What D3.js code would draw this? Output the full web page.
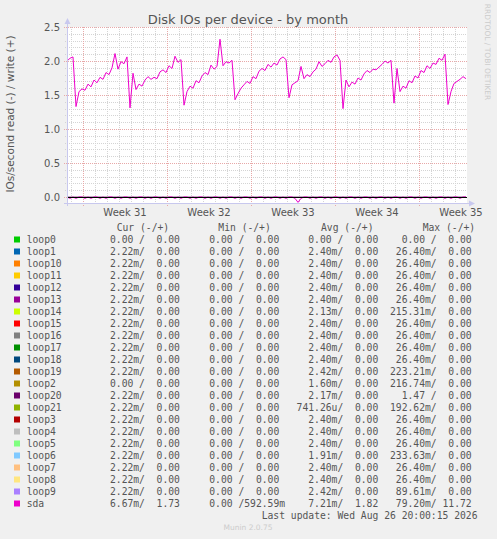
<!DOCTYPE html>
<html>
<head>
<meta charset="utf-8">
<script src="https://cdn.jsdelivr.net/npm/d3@7"></script>
<style>
  body { margin: 0; background: #f0f0f0; }
  text { font-family: "DejaVu Sans", sans-serif; fill: #555; }
  .mono { font-family: "DejaVu Sans Mono", monospace; font-size: 9.7px; white-space: pre; }
</style>
</head>
<body>
<div id="chart"></div>
<script>

// sda writes, one value every 6 hours from the left edge
var sdaWrite = [
  2.00, 2.04, 2.06, 1.33, 1.55, 1.59, 1.57, 1.66, 1.62, 1.72,
  1.68, 1.76, 1.73, 1.83, 1.80, 1.90, 2.11, 1.88, 1.99, 1.96,
  2.06, 1.31, 1.82, 1.58, 1.66, 1.63, 1.72, 1.77, 1.73, 1.76,
  1.74, 1.84, 1.87, 1.83, 1.93, 1.89, 2.07, 1.98, 2.02, 1.35,
  1.55, 1.63, 1.60, 1.71, 1.68, 1.78, 1.83, 1.80, 1.94, 1.88,
  1.92, 2.32, 1.93, 1.99, 1.97, 2.01, 1.43, 1.52, 1.60, 1.65,
  1.70, 1.67, 1.77, 1.74, 1.85, 1.89, 1.86, 1.95, 1.91, 1.97,
  1.94, 2.03, 2.06, 2.02, 1.46, 1.65, 1.68, 1.71, 1.92, 1.74,
  1.80, 1.77, 1.84, 1.88, 1.99, 1.92, 1.96, 2.01, 1.98, 2.06,
  2.09, 2.01, 1.30, 1.72, 1.62, 1.69, 1.66, 1.75, 1.72, 1.81,
  1.86, 1.83, 1.88, 1.87, 1.91, 1.95, 2.00, 1.97, 2.01, 1.38,
  1.89, 1.55, 1.63, 1.60, 1.71, 1.68, 1.78, 1.75, 1.86, 1.83,
  1.93, 1.89, 1.97, 1.95, 2.04, 2.01, 2.10, 1.36, 1.55, 1.67,
  1.70, 1.73, 1.77, 1.74
];

// sda reads (drawn below zero)
var sdaRead = [
  0, 0.02, 0, 0.02, 0, 0, 0.02, 0, 0.02, 0,
  0, 0.02, 0, 0.02, 0, 0, 0.02, 0, 0.02, 0,
  0, 0.02, 0, 0.02, 0, 0, 0.02, 0, 0.02, 0,
  0, 0.02, 0, 0.02, 0, 0, 0.02, 0, 0.02, 0,
  0, 0.02, 0, 0.02, 0, 0, 0.02, 0, 0.02, 0,
  0, 0.02, 0, 0.02, 0, 0, 0.02, 0, 0.02, 0,
  0, 0.02, 0, 0.02, 0, 0, 0.02, 0, 0.02, 0,
  0, 0.02, 0, 0.02, 0, 0, 0.02, 0.079, 0.02, 0,
  0, 0.02, 0, 0.02, 0, 0, 0.02, 0, 0.02, 0,
  0, 0.02, 0, 0.02, 0, 0, 0.02, 0, 0.02, 0,
  0, 0.02, 0, 0.02, 0, 0, 0.02, 0, 0.02, 0,
  0, 0.02, 0, 0.02, 0, 0, 0.02, 0, 0.02, 0,
  0, 0.02, 0, 0.02, 0, 0, 0.02, 0, 0.02, 0,
  0, 0.02, 0, 0
];

var devices = ["loop0", "loop1", "loop10", "loop11", "loop12", "loop13", "loop14", "loop15",
  "loop16", "loop17", "loop18", "loop19", "loop2", "loop20", "loop21", "loop3", "loop4",
  "loop5", "loop6", "loop7", "loop8", "loop9", "sda"];
var colors = ["#00CC00", "#0066B3", "#FF8000", "#FFCC00", "#330099", "#990099", "#CCFF00", "#FF0000",
  "#808080", "#008F00", "#00487D", "#B35A00", "#B38F00", "#6B006B", "#8FB300", "#B30000", "#BEBEBE",
  "#80FF80", "#80C9FF", "#FFC080", "#FFE680", "#AA80FF", "#EE00CC"];

var curRead  = [0, 2.22e-3, 2.22e-3, 2.22e-3, 2.22e-3, 2.22e-3, 2.22e-3, 2.22e-3, 2.22e-3, 2.22e-3, 2.22e-3, 2.22e-3, 0, 2.22e-3, 2.22e-3, 2.22e-3, 2.22e-3, 2.22e-3, 2.22e-3, 2.22e-3, 2.22e-3, 2.22e-3, 6.67e-3];
var curWrite = [0, 0, 0, 0, 0, 0, 0, 0, 0, 0, 0, 0, 0, 0, 0, 0, 0, 0, 0, 0, 0, 0, 1.73];
var minRead  = [0, 0, 0, 0, 0, 0, 0, 0, 0, 0, 0, 0, 0, 0, 0, 0, 0, 0, 0, 0, 0, 0, 0];
var minWrite = [0, 0, 0, 0, 0, 0, 0, 0, 0, 0, 0, 0, 0, 0, 0, 0, 0, 0, 0, 0, 0, 0, 0.59259];
var avgRead  = [0, 2.40e-3, 2.40e-3, 2.40e-3, 2.40e-3, 2.40e-3, 2.13e-3, 2.40e-3, 2.40e-3, 2.40e-3, 2.40e-3, 2.42e-3, 1.60e-3, 2.17e-3, 741.26e-6, 2.40e-3, 2.40e-3, 2.40e-3, 1.91e-3, 2.40e-3, 2.40e-3, 2.42e-3, 7.21e-3];
var avgWrite = [0, 0, 0, 0, 0, 0, 0, 0, 0, 0, 0, 0, 0, 0, 0, 0, 0, 0, 0, 0, 0, 0, 1.82];
var maxRead  = [0, 26.40e-3, 26.40e-3, 26.40e-3, 26.40e-3, 26.40e-3, 215.31e-3, 26.40e-3, 26.40e-3, 26.40e-3, 26.40e-3, 223.21e-3, 216.74e-3, 1.47, 192.62e-3, 26.40e-3, 26.40e-3, 26.40e-3, 233.63e-3, 26.40e-3, 26.40e-3, 89.61e-3, 79.20e-3];
var maxWrite = [0, 0, 0, 0, 0, 0, 0, 0, 0, 0, 0, 0, 0, 0, 0, 0, 0, 0, 0, 0, 0, 0, 11.72];

var columns = ["Cur (-/+)", "Min (-/+)", "Avg (-/+)", "Max (-/+)"];
var yTicks = [0, 0.5, 1.0, 1.5, 2.0, 2.5];

var startTime = new Date(Date.UTC(2026, 6, 25, 16)),
    endTime = new Date(Date.UTC(2026, 7, 28, 0)),
    stepMs = 6 * 3600 * 1000;

var W = 497, H = 539,
    plotL = 67, plotR = 467, plotT = 27, zeroY = 197, plotB = 203;

var svg = d3.select("#chart")
  .append("svg")
    .attr("width", W)
    .attr("height", H);

svg.append("rect").attr("width", W).attr("height", H).attr("fill", "#f0f0f0");

var x = d3.scaleTime()
  .domain([startTime, endTime])
  .range([plotL, plotR]);

var y = d3.scaleLinear()
  .domain([0, 2.5])
  .range([zeroY, plotT]);

function t(i) { return new Date(startTime.getTime() + i * stepMs); }

// plot background
svg.append("rect")
  .attr("x", plotL).attr("y", plotT)
  .attr("width", plotR - plotL).attr("height", plotB - plotT)
  .attr("fill", "#ffffff");

// horizontal minor grid
var minorY = d3.range(0, 26).map(function (k) { return k / 10; });
svg.append("g").selectAll("line")
  .data(minorY.filter(function (v) { return Math.round(v * 10) % 5 != 0; }))
  .enter().append("line")
    .attr("x1", plotL - 2).attr("x2", plotR)
    .attr("y1", function (d) { return Math.round(y(d)) + 0.5; })
    .attr("y2", function (d) { return Math.round(y(d)) + 0.5; })
    .attr("stroke", "#d4d4d4").attr("stroke-dasharray", "1,1");

// vertical minor grid
var days = d3.utcDay.range(startTime, endTime);
svg.append("g").selectAll("line")
  .data(days.filter(function (d) { return d.getUTCDay() != 1; }))
  .enter().append("line")
    .attr("x1", function (d) { return Math.round(x(d)) + 0.5; })
    .attr("x2", function (d) { return Math.round(x(d)) + 0.5; })
    .attr("y1", plotT).attr("y2", plotB + 2)
    .attr("stroke", "#d4d4d4").attr("stroke-dasharray", "1,1");

// major grid
svg.append("g").selectAll("line")
  .data(yTicks)
  .enter().append("line")
    .attr("x1", plotL - 3).attr("x2", plotR)
    .attr("y1", function (d) { return Math.round(y(d)) + 0.5; })
    .attr("y2", function (d) { return Math.round(y(d)) + 0.5; })
    .attr("stroke", "#e8a8a8").attr("stroke-dasharray", "1,1");

var mondays = d3.utcMonday.range(startTime, endTime);
svg.append("g").selectAll("line")
  .data(mondays)
  .enter().append("line")
    .attr("x1", function (d) { return Math.round(x(d)) + 0.5; })
    .attr("x2", function (d) { return Math.round(x(d)) + 0.5; })
    .attr("y1", plotT).attr("y2", plotB + 3)
    .attr("stroke", "#e8a8a8").attr("stroke-dasharray", "1,1");

// y tick labels
svg.append("g").selectAll("text")
  .data(yTicks)
  .enter().append("text")
    .attr("x", plotL - 7)
    .attr("y", function (d) { return y(d) + 3.5; })
    .attr("text-anchor", "end")
    .style("font-size", "10px")
    .text(function (d) { return d3.format(".1f")(d); });

// week labels
svg.append("g").selectAll("text")
  .data(mondays)
  .enter().append("text")
    .attr("x", function (d) { return x(new Date(d.getTime() + 3.5 * 864e5)); })
    .attr("y", 216)
    .attr("text-anchor", "middle")
    .style("font-size", "10px")
    .text(function (d) { return "Week " + d3.utcFormat("%V")(d); });

// series
var lineW = d3.line()
  .x(function (d, i) { return x(t(i)); })
  .y(function (d) { return y(d); });
var lineR = d3.line()
  .x(function (d, i) { return x(t(i)); })
  .y(function (d) { return y(-d); });

var flat = sdaWrite.map(function () { return 0; });
svg.append("g").selectAll("path")
  .data(devices.slice(0, -1))
  .enter().append("path")
    .attr("d", lineW(flat))
    .attr("fill", "none")
    .attr("stroke", function (d, i) { return colors[i]; });

svg.append("path")
  .attr("d", lineR(sdaRead))
  .attr("fill", "none")
  .attr("stroke", colors[22]);

svg.append("path")
  .attr("d", lineW(sdaWrite))
  .attr("fill", "none")
  .attr("stroke", colors[22]);

// zero line
svg.append("line")
  .attr("x1", plotL).attr("x2", plotR)
  .attr("y1", zeroY + 0.5).attr("y2", zeroY + 0.5)
  .attr("stroke", "#000");

// axes with arrows
svg.append("line")
  .attr("x1", plotL + 0.5).attr("x2", plotL + 0.5)
  .attr("y1", plotB + 3).attr("y2", plotT - 4)
  .attr("stroke", "#c8c8ee");
svg.append("path")
  .attr("d", "M" + (plotL - 2.5) + "," + (plotT - 3) + "L" + (plotL + 3.5) + "," + (plotT - 3) + "L" + (plotL + 0.5) + "," + (plotT - 9) + "Z")
  .attr("fill", "#c8c8ee");
svg.append("line")
  .attr("x1", plotL - 3).attr("x2", plotR + 3)
  .attr("y1", plotB + 0.5).attr("y2", plotB + 0.5)
  .attr("stroke", "#c8c8ee");
svg.append("path")
  .attr("d", "M" + (plotR + 2) + "," + (plotB - 2.5) + "L" + (plotR + 2) + "," + (plotB + 3.5) + "L" + (plotR + 8) + "," + (plotB + 0.5) + "Z")
  .attr("fill", "#c8c8ee");

// title and side texts
svg.append("text")
  .attr("x", 248).attr("y", 24)
  .attr("text-anchor", "middle")
  .style("font-size", "13px")
  .text("Disk IOs per device - by month");

svg.append("text")
  .attr("transform", "translate(14,114) rotate(-90)")
  .attr("text-anchor", "middle")
  .style("font-size", "10.5px")
  .text("IOs/second read (-) / write (+)");

svg.append("text")
  .attr("transform", "translate(485,52) rotate(90)")
  .attr("text-anchor", "middle")
  .style("font-size", "7.5px")
  .style("fill", "#cccccc")
  .text("RRDTOOL / TOBI OETIKER");

svg.append("text")
  .attr("x", 248).attr("y", 530)
  .attr("text-anchor", "middle")
  .style("font-size", "7.5px")
  .style("fill", "#cccccc")
  .text("Munin 2.0.75");

// legend
function fmt(v) {
  var unit = " ", s = v;
  if (v != 0 && Math.abs(v) < 1e-3) { unit = "u"; s = v * 1e6; }
  else if (v != 0 && Math.abs(v) < 1) { unit = "m"; s = v * 1e3; }
  var n = s.toFixed(2);
  while (n.length < 6) n = " " + n;
  return n + unit;
}
function cell(r, w) { return fmt(r) + "/" + fmt(w); }

var colX = [98.3, 197.6, 296.6, 390];
var headX = [116.7, 218.3, 321, 422.7];

svg.append("g").selectAll("text")
  .data(columns)
  .enter().append("text")
    .attr("class", "mono")
    .attr("x", function (d, i) { return headX[i]; })
    .attr("y", 231)
    .text(function (d) { return d; });

var rows = svg.append("g").selectAll("g")
  .data(devices)
  .enter().append("g")
    .attr("transform", function (d, i) { return "translate(0," + (239.5 + i * 12) + ")"; });

rows.append("rect")
  .attr("x", 14).attr("y", -3)
  .attr("width", 6).attr("height", 6)
  .attr("fill", function (d, i) { return colors[i]; });

rows.append("text")
  .attr("class", "mono")
  .attr("x", 26.7).attr("y", 3.5)
  .text(function (d) { return d; });

rows.each(function (d, i) {
  var vals = [cell(curRead[i], curWrite[i]), cell(minRead[i], minWrite[i]),
              cell(avgRead[i], avgWrite[i]), cell(maxRead[i], maxWrite[i])];
  d3.select(this).selectAll("text.v")
    .data(vals)
    .enter().append("text")
      .attr("class", "mono v")
      .attr("x", function (v, k) { return colX[k]; })
      .attr("y", 3.5)
      .text(function (v) { return v; });
});

svg.append("text")
  .attr("class", "mono")
  .attr("x", 261.7).attr("y", 519)
  .text("Last update: Wed Aug 26 20:00:15 2026");

</script>
</body>
</html>
